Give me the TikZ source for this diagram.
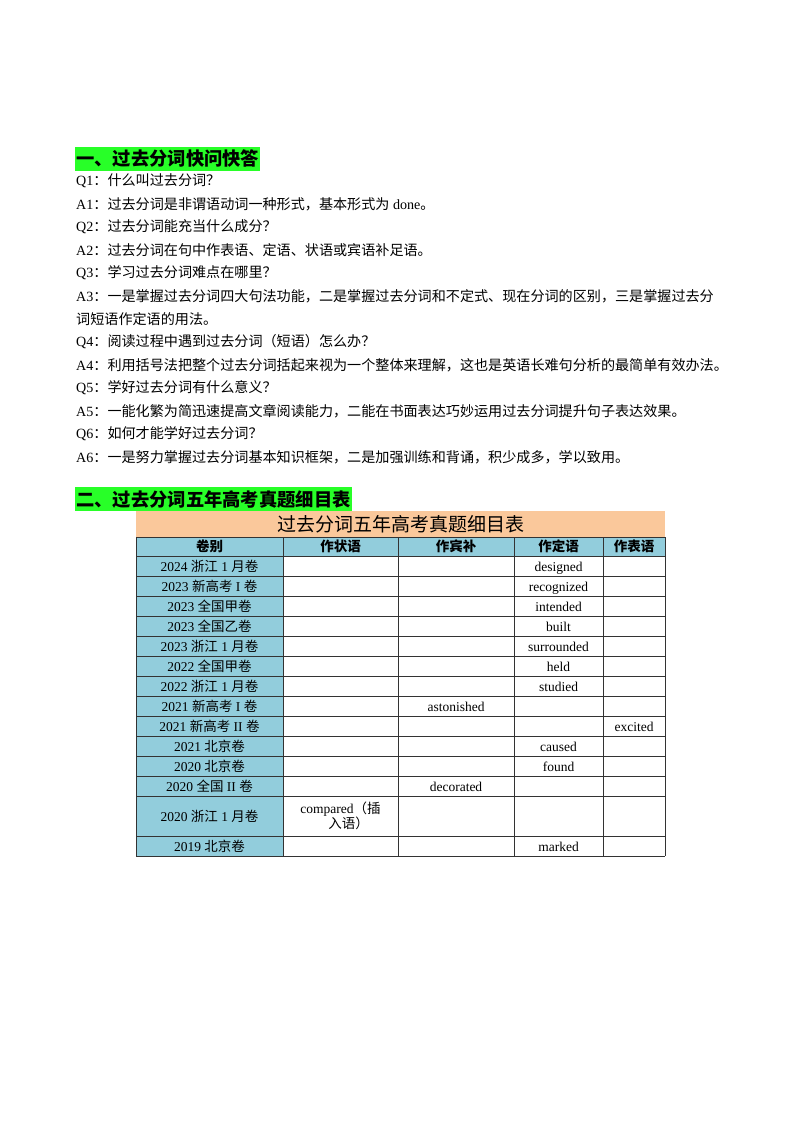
\documentclass[tikz,border=0pt]{standalone}
\usepackage{fontspec}
\setmainfont{Liberation Serif}
\newfontfamily\cjk{Noto Sans CJK SC}
\XeTeXinterchartokenstate=1
\newXeTeXintercharclass\CJKcls
\count255="3000 \loop \XeTeXcharclass\count255=\CJKcls \ifnum\count255<"303F \advance\count255 1 \repeat
\count255="4E00 \loop \XeTeXcharclass\count255=\CJKcls \ifnum\count255<"9FFF \advance\count255 1 \repeat
\count255="FF00 \loop \XeTeXcharclass\count255=\CJKcls \ifnum\count255<"FFEF \advance\count255 1 \repeat
\XeTeXinterchartoks 0 \CJKcls={\begingroup\cjk}
\XeTeXinterchartoks 4095 \CJKcls={\begingroup\cjk}
\XeTeXinterchartoks \CJKcls 0={\endgroup}
\XeTeXinterchartoks \CJKcls 4095={\endgroup}
\definecolor{hgreen}{RGB}{40,255,40}
\definecolor{torange}{RGB}{250,200,155}
\definecolor{tblue}{RGB}{146,205,220}
\tikzset{
  line/.style={anchor=west,inner sep=0pt,font=\fontsize{14.1pt}{17pt}\selectfont},
  head/.style={anchor=west,inner sep=1pt,fill=hgreen,font=\fontsize{18.3pt}{22pt}\selectfont\bfseries,minimum height=24pt},
  cell/.style={inner sep=0pt,anchor=base,font=\fontsize{13.5pt}{15pt}\selectfont,align=center},
  hcell/.style={cell,font=\fontsize{13.5pt}{15pt}\selectfont\bfseries},
  grid/.style={line width=0.8pt,black!80}
}
\begin{document}
\begin{tikzpicture}[x=1pt,y=-1pt]
\useasboundingbox (0,0) rectangle (800,1132);
\node[head] (h1) at (75,159) {一、过去分词快问快答};
\node[line] (l1) at (76,181) {Q1：什么叫过去分词？};
\node[line] (l2) at (76,204) {A1：过去分词是非谓语动词一种形式，基本形式为 done。};
\node[line] (l3) at (76,227) {Q2：过去分词能充当什么成分？};
\node[line] (l4) at (76,250) {A2：过去分词在句中作表语、定语、状语或宾语补足语。};
\node[line] (l5) at (76,273) {Q3：学习过去分词难点在哪里？};
\node[line] (l6) at (76,296) {A3：一是掌握过去分词四大句法功能，二是掌握过去分词和不定式、现在分词的区别，三是掌握过去分};
\node[line] (l7) at (76,319) {词短语作定语的用法。};
\node[line] (l8) at (76,342) {Q4：阅读过程中遇到过去分词（短语）怎么办？};
\node[line] (l9) at (76,365) {A4：利用括号法把整个过去分词括起来视为一个整体来理解，这也是英语长难句分析的最简单有效办法。};
\node[line] (l10) at (76,388) {Q5：学好过去分词有什么意义？};
\node[line] (l11) at (76,411) {A5：一能化繁为简迅速提高文章阅读能力，二能在书面表达巧妙运用过去分词提升句子表达效果。};
\node[line] (l12) at (76,434) {Q6：如何才能学好过去分词？};
\node[line] (l13) at (76,457) {A6：一是努力掌握过去分词基本知识框架，二是加强训练和背诵，积少成多，学以致用。};
\node[head] (h2) at (75,499) {二、过去分词五年高考真题细目表};
% table fills
\fill[torange] (136,511) rectangle (665,537);
\fill[tblue] (136,537) rectangle (665,556);
\fill[tblue] (136,556) rectangle (283,856);
\foreach \y in {537,556,576,596,616,636,656,676,696,716,736,756,776,796,836,856}
  \draw[grid] (136,\y) -- (665,\y);
\foreach \x in {136,283,398,514,603,665}
  \draw[grid] (\x,537) -- (\x,856);
\node[cell,font=\fontsize{19pt}{21pt}\selectfont] (title) at (400.5,531) {过去分词五年高考真题细目表};
\node[hcell] (hc1) at (209.5,551.5) {卷别};
\node[hcell] (hc2) at (340.5,551.5) {作状语};
\node[hcell] (hc3) at (456,551.5) {作宾补};
\node[hcell] (hc4) at (558.5,551.5) {作定语};
\node[hcell] (hc5) at (634,551.5) {作表语};
\foreach \lab/\yc/\xx/\t [count=\i] in {
  2024 浙江 1 月卷/571/558.5/designed,
  2023 新高考 I 卷/591/558.5/recognized,
  2023 全国甲卷/611/558.5/intended,
  2023 全国乙卷/631/558.5/built,
  2023 浙江 1 月卷/651/558.5/surrounded,
  2022 全国甲卷/671/558.5/held,
  2022 浙江 1 月卷/691/558.5/studied,
  2021 新高考 I 卷/711/456/astonished,
  2021 新高考 II 卷/731/634/excited,
  2021 北京卷/751/558.5/caused,
  2020 北京卷/771/558.5/found,
  2020 全国 II 卷/791/456/decorated,
  2019 北京卷/851/558.5/marked}{
  \node[cell] (rl\i) at (209.5,\yc) {\lab};
  \node[cell] (rv\i) at (\xx,\yc) {\t};
}
\node[cell] (rl14) at (209.5,821) {2020 浙江 1 月卷};
\node[cell,anchor=center] (rv14) at (340.5,816) {compared（插\\\hspace*{1.2em}入语）};
\end{tikzpicture}
\end{document}
